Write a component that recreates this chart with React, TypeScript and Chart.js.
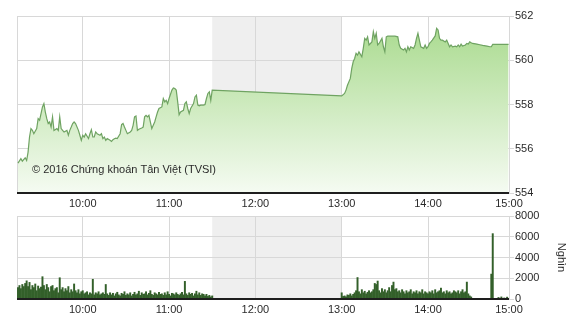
import React, { useEffect, useRef } from 'react';
import { Chart, registerables } from 'chart.js';

Chart.register(...registerables);

// ---- DATA (time = minutes after 09:00) ----
const amTimes = [15,17,18,20,21,22,23,24,25,26,28,29,30,31,32,33,34,35,36,37,38,39,40,42,43,44,45,46,47,49,50,51,52,53,54,55,57,58,59,60,61,62,64,65,66,67,68,69,70,72,73,74,75,76,77,79,80,81,82,83,84,86,87,88,89,90,91,93,94,95,96,97,98,99,101,102,103,104,105,106,108,109,110,111,112,113,115,116,117,118,119,120,122,123,124,125,126,127,128,130,131,132,133,134,135,137,138,139,140,141,142,144,145,146,147,148,149,150];
const amPrices = [555.35,555.55,555.44,555.59,555.47,555.85,556.53,556.91,556.83,556.68,556.91,557.36,557.29,557.59,557.89,558.04,557.66,557.36,557.14,557.21,556.98,557.44,556.83,556.91,556.83,557.44,556.91,556.83,556.76,556.83,556.61,556.83,556.98,557.14,557.21,557.14,556.83,556.61,556.38,556.61,556.53,556.68,556.46,556.68,556.86,556.53,556.53,556.76,556.68,556.61,556.68,556.46,556.53,556.38,556.46,556.38,556.33,556.41,556.45,556.48,556.46,556.68,557.09,557.14,556.98,556.83,556.68,556.76,556.83,557.06,557.44,557.48,556.83,556.88,556.94,556.98,557.44,557.51,557.44,557.51,556.91,557.06,557.21,557.44,557.66,557.82,557.89,558.27,558.12,558.19,558.04,558.27,558.65,558.75,558.72,558.65,558.12,557.54,557.66,557.74,558.04,558.12,557.82,557.59,557.82,558.04,558.34,558.42,557.97,557.94,557.97,557.97,558.00,558.27,558.50,558.57,558.19,558.65];

const pmTimes = [240,242,243,244,246,247,248,249,250,251,252,254,255,256,257,258,259,261,262,263,264,265,266,268,269,270,271,272,275,277,279,280,281,283,284,285,286,287,288,290,291,292,293,294,295,297,298,299,300,301,302,303,305,306,307,308,309,310,312,313,314,315,316,317,319,320,321,322,323,324,326,327,328,329,330,331,334,336,338,341,343,344,345,348,350,353,356];
const pmPrices = [558.39,558.50,558.65,558.87,559.18,559.63,559.93,560.08,560.31,560.23,560.38,560.16,560.54,560.99,560.91,561.06,560.69,560.83,561.29,560.99,561.22,560.69,560.76,560.99,560.61,560.38,561.06,561.09,561.09,561.09,561.06,560.69,560.54,560.46,560.54,560.38,560.61,560.46,560.61,560.54,560.69,560.99,561.22,560.91,560.61,560.54,560.69,560.54,560.61,560.76,560.83,560.91,561.10,561.44,561.37,560.99,560.91,560.91,560.83,560.91,560.76,560.61,560.69,560.61,560.64,560.61,560.69,560.61,560.73,560.64,560.69,560.76,560.73,560.83,560.79,560.76,560.73,560.70,560.67,560.64,560.61,560.61,560.72,560.72,560.72,560.72,560.72];

// volume (thousand shares) per minute
const amVolStart = 15; // 09:15
const amVolumes = [
  1100,1300,1000,1400,1200,1500,1750,1200,1600,900,
  1300,1100,1450,800,1250,1000,1150,2150,1300,900,
  1400,1100,700,1200,1300,800,1000,1100,600,2050,
  900,1100,700,1000,800,1200,600,900,700,1450,
  800,600,900,500,700,800,500,600,700,400,
  600,500,1900,400,600,500,700,400,500,600,
  450,1400,500,350,600,400,550,300,500,650,
  400,300,550,450,700,350,500,400,600,300,
  450,650,400,500,750,350,600,450,500,700,
  400,550,800,450,350,600,500,400,650,450,
  500,350,600,400,700,450,300,550,500,400,
  600,450,350,500,650,400,1700,500,350,600,
  450,550,300,500,750,400,600,350,500,450,
  300,450,250,350,200,300
];
const pmVolStart = 240; // 13:00
const pmVolumes = [
  600,250,300,200,400,350,500,300,450,600,
  800,2070,700,500,900,600,750,500,650,800,
  600,700,900,1500,1400,1730,800,600,1000,700,
  900,600,800,1100,700,1300,1630,900,1000,700,
  800,600,900,700,500,800,600,700,900,500,
  700,600,800,500,700,600,900,500,700,600,
  500,700,600,800,500,900,600,700,800,1050,
  600,700,500,800,600,700,500,600,800,700,
  600,800,500,700,900,600,700,1630,500,300,
  200
];
const atcTimes = [344, 345, 349, 351, 353, 355];
const atcVolumes = [2400, 6300, 150, 200, 100, 180];

const priceTicks = [554, 556, 558, 560, 562];
const volumeTicks = [0, 2000, 4000, 6000, 8000];
const hourTicks = [60, 120, 180, 240, 300];
const xMin = 14.3;
const xMax = 356.3;
const lastTickLabel = '15:00';
const breakStart = 150; // 11:30
const breakEnd = 240;   // 13:00
const watermark = '© 2016 Chứng khoán Tân Việt (TVSI)';
const volumeUnit = 'Nghìn';

// ---- STYLE ----
const FONT = "Arial, 'Liberation Sans', sans-serif";
const gridColor = '#d8d8d8';
const textColor = '#2a2a2a';
const bandColor = '#efefef';

const fmtTime = (v: number) => {
  const total = 9 * 60 + Math.round(v);
  const h = Math.floor(total / 60);
  const m = total % 60;
  return `${h}:${m < 10 ? '0' + m : m}`;
};

const makeX = (axisHeight: number) => ({
  type: 'linear' as const,
  min: xMin,
  max: xMax,
  offset: false,
  afterBuildTicks: (s: any) => {
    s.ticks = [xMin, ...hourTicks, xMax].map((v) => ({ value: v }));
  },
  afterFit: (s: any) => {
    s.height = axisHeight;
  },
  ticks: {
    autoSkip: false,
    maxRotation: 0,
    padding: 4,
    color: textColor,
    font: { family: FONT, size: 11 },
    callback: (v: any) => (v === xMin ? '' : v === xMax ? lastTickLabel : fmtTime(v)),
  },
  grid: { color: gridColor, drawTicks: false, offset: false },
  border: { display: false },
});

const bandPlugin = {
  id: 'band',
  beforeDraw(chart: any) {
    const { ctx, chartArea, scales } = chart;
    const x1 = scales.x.getPixelForValue(breakStart);
    const x2 = scales.x.getPixelForValue(breakEnd);
    ctx.save();
    ctx.fillStyle = bandColor;
    ctx.fillRect(x1, chartArea.top, x2 - x1, chartArea.bottom - chartArea.top);
    ctx.restore();
  },
};

const baselinePlugin = (withText: boolean) => ({
  id: 'baseline',
  afterDatasetsDraw(chart: any) {
    const { ctx, chartArea } = chart;
    ctx.save();
    ctx.strokeStyle = '#1e1e1e';
    ctx.lineWidth = 2;
    ctx.beginPath();
    ctx.moveTo(chartArea.left, chartArea.bottom);
    ctx.lineTo(chartArea.right, chartArea.bottom);
    ctx.stroke();
    if (withText) {
      ctx.fillStyle = textColor;
      ctx.font = `11px ${FONT}`;
      ctx.textBaseline = 'middle';
      ctx.textAlign = 'left';
      ctx.fillText(watermark, chartArea.left + 15, chartArea.bottom - 23);
    }
    ctx.restore();
  },
});

const plainTick = (v: any) => String(v);

export default function App() {
  const topRef = useRef<HTMLCanvasElement>(null);
  const botRef = useRef<HTMLCanvasElement>(null);

  useEffect(() => {
    const priceData = [
      ...amTimes.map((t, i) => ({ x: t, y: amPrices[i] })),
      ...pmTimes.map((t, i) => ({ x: t, y: pmPrices[i] })),
    ];
    const volData = [
      ...amVolumes.map((v, i) => ({ x: amVolStart + i, y: v })),
      ...pmVolumes.map((v, i) => ({ x: pmVolStart + i, y: v })),
      ...atcTimes.map((t, i) => ({ x: t, y: atcVolumes[i] })),
    ];

    const top = new Chart(topRef.current!, {
      type: 'line',
      data: {
        datasets: [
          {
            data: priceData,
            borderColor: '#6fa362',
            borderWidth: 1.2,
            pointRadius: 0,
            tension: 0,
            fill: 'start',
            backgroundColor: (ctx: any) => {
              const { chart } = ctx;
              const area = chart.chartArea;
              if (!area) return 'rgba(170,220,140,0.5)';
              const g = chart.ctx.createLinearGradient(0, area.top, 0, area.bottom);
              g.addColorStop(0, '#a6d98a');
              g.addColorStop(1, '#f5fbf2');
              return g;
            },
          },
        ],
      },
      options: {
        responsive: false,
        animation: false,
        layout: { padding: { left: 17, right: 2, top: 16, bottom: 0 } },
        plugins: { legend: { display: false }, tooltip: { enabled: false } },
        scales: {
          x: makeX(17) as any,
          y: {
            position: 'right',
            min: 554,
            max: 562,
            afterBuildTicks: (s: any) => {
              s.ticks = priceTicks.map((v) => ({ value: v }));
            },
            afterFit: (s: any) => {
              s.width = 59;
            },
            ticks: { padding: 1, color: textColor, font: { family: FONT, size: 11 }, callback: plainTick },
            grid: { color: gridColor, tickLength: 5 },
            border: { color: gridColor },
          },
        },
      },
      plugins: [bandPlugin, baselinePlugin(true)],
    });

    const bot = new Chart(botRef.current!, {
      type: 'bar',
      data: {
        datasets: [
          {
            data: volData,
            backgroundColor: '#33602a',
            barThickness: 1.3,
          } as any,
        ],
      },
      options: {
        responsive: false,
        animation: false,
        layout: { padding: { left: 17, right: 2, top: 11, bottom: 0 } },
        plugins: { legend: { display: false }, tooltip: { enabled: false } },
        scales: {
          x: makeX(21) as any,
          y: {
            position: 'right',
            min: 0,
            max: 8000,
            afterBuildTicks: (s: any) => {
              s.ticks = volumeTicks.map((v) => ({ value: v }));
            },
            afterFit: (s: any) => {
              s.width = 59;
            },
            ticks: { padding: 1, color: textColor, font: { family: FONT, size: 11 }, callback: plainTick },
            grid: { color: gridColor, tickLength: 5 },
            border: { color: gridColor },
            title: {
              display: true,
              text: volumeUnit,
              color: textColor,
              font: { family: FONT, size: 11 },
              padding: { top: 0, bottom: 0 },
            },
          },
        },
      },
      plugins: [bandPlugin, baselinePlugin(false)],
    });

    return () => {
      top.destroy();
      bot.destroy();
    };
  }, []);

  return (
    <div style={{ position: 'absolute', left: 0, top: 0, width: 570, height: 320, background: '#fff' }}>
      <canvas ref={topRef} width={570} height={210} style={{ position: 'absolute', left: 0, top: 0 }} />
      <canvas ref={botRef} width={570} height={115} style={{ position: 'absolute', left: 0, top: 205 }} />
    </div>
  );
}
